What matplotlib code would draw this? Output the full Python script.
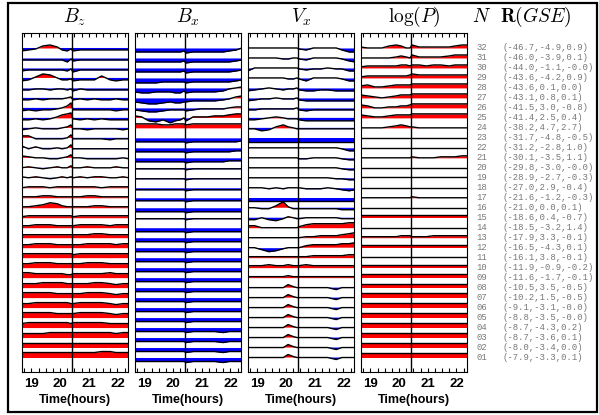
import numpy as np
import matplotlib.pyplot as plt
from matplotlib.transforms import blended_transform_factory
from matplotlib.patches import Rectangle
from matplotlib.ticker import MultipleLocator

plt.rcParams['mathtext.fontset'] = 'cm'

# sample times (hours) shared by all traces
times = [18.65, 18.9, 19.15, 19.4, 19.65, 19.9, 20.07, 20.25, 20.38, 20.45,
         20.7, 20.95, 21.2, 21.45, 21.75, 21.95, 22.2, 22.4]
t_event = 20.42

# trace values, rows from station 32 (top) down to 01, in tenths of a row
bz = [
    [-3, -2, -1, 2, 3, 1, -2, -3, -1, -3, -2, -2, -2, -2, -2, -2, -2, -2],
    [-2, -2, -2, -2, -2, -2, -2, -4, -1, -3, -2, -2, -2, -2, -2, -2, -2, -2],
    [-3, -2, -2, -2, -2, -2, -2, -3, -1, -4, -2, -2, -2, -2, -2, -2, -2, -2],
    [-3, -2, 1, 4, 3, 0, -2, -2, -1, -3, -2, -2, -2, 2, -2, -3, -2, -2],
    [-2, -2, -1, -1, -2, -1, -1, -2, -1, -3, -1, -2, -2, -2, -2, -2, -2, -2],
    [-2, -2, -1, -2, -1, -1, -1, 0, 1, -2, -1, -2, -1, -2, -2, -1, -2, -2],
    [-3, -2, -3, -2, -2, -1, 0, 2, 5, -2, -2, -2, -2, -2, -2, -3, -2, -2],
    [-2, -2, -1, -2, -1, 1, 3, 4, 5, -1, -2, -1, -2, -1, -2, -2, -2, -2],
    [-2, -1, 0, -1, -1, -1, 0, 1, 3, -1, -1, -2, -1, -1, -1, -1, -2, -1],
    [2, 2, -1, -1, -1, -1, -1, 0, 3, -1, -1, -1, -1, -1, -2, -1, -1, -1],
    [2, -1, 1, -1, -1, 0, -1, 0, 3, -1, -1, -1, -1, -1, -1, -1, -1, -1],
    [2, 1, 0, 0, -1, -1, 0, 1, 3, 0, 0, -1, -1, -1, -1, -1, 0, -1],
    [0, 1, 0, -1, 0, 1, 0, 0, 2, 0, 0, 1, 0, 0, 0, 1, 0, 0],
    [1, 0, 1, 0, -1, 0, 1, 0, 1, 0, 1, 0, 1, 1, 0, 0, 1, 0],
    [0, 1, 1, 1, 0, 1, 1, 1, 1, 1, 1, 1, 1, 0, 1, 1, 1, 1],
    [1, 1, 1, 2, 2, 1, 1, 1, 1, 1, 1, 2, 2, 1, 1, 1, 1, 1],
    [1, 1, 2, 3, 5, 4, 2, 1, 1, 1, 1, 1, 2, 2, 1, 1, 1, 1],
    [1, 2, 2, 2, 2, 2, 2, 2, 2, 1, 2, 2, 2, 2, 2, 2, 2, 2],
    [2, 2, 3, 3, 3, 2, 2, 2, 2, 2, 3, 3, 3, 3, 2, 3, 3, 3],
    [3, 3, 3, 3, 3, 3, 3, 3, 3, 3, 3, 3, 4, 4, 3, 3, 3, 3],
    [3, 3, 4, 4, 4, 3, 3, 3, 3, 3, 3, 4, 4, 4, 4, 3, 4, 4],
    [4, 4, 4, 4, 4, 4, 4, 4, 4, 3, 4, 4, 4, 4, 4, 4, 4, 4],
    [4, 4, 5, 5, 5, 4, 4, 4, 4, 4, 4, 5, 5, 5, 4, 4, 4, 4],
    [5, 5, 4, 4, 4, 4, 4, 3, 3, 4, 4, 4, 4, 4, 5, 4, 4, 4],
    [4, 4, 4, 5, 5, 5, 5, 4, 4, 4, 4, 4, 5, 5, 4, 3, 4, 4],
    [5, 5, 5, 5, 5, 4, 4, 4, 4, 4, 4, 5, 5, 5, 4, 3, 4, 4],
    [4, 4, 5, 5, 5, 5, 5, 5, 4, 4, 5, 5, 5, 5, 4, 3, 4, 4],
    [5, 5, 5, 5, 5, 4, 4, 4, 4, 4, 5, 5, 5, 5, 4, 3, 4, 4],
    [4, 5, 5, 5, 5, 5, 5, 5, 4, 5, 5, 5, 5, 5, 4, 4, 4, 4],
    [4, 4, 4, 4, 5, 5, 5, 5, 5, 5, 5, 5, 5, 5, 5, 4, 5, 5],
    [5, 5, 5, 5, 5, 5, 5, 5, 5, 5, 5, 5, 5, 5, 5, 5, 5, 5],
    [5, 5, 5, 5, 5, 5, 5, 5, 5, 5, 5, 5, 5, 6, 6, 5, 5, 5],
]

bx = [
    [-4, -4, -4, -4, -4, -4, -4, -4, -3, -5, -4, -4, -4, -4, -4, -3, -2, 0],
    [-4, -4, -4, -4, -4, -4, -4, -4, -3, -5, -4, -4, -4, -4, -4, -4, -3, -2],
    [-4, -4, -4, -4, -4, -4, -4, -4, -3, -5, -4, -4, -4, -4, -4, -4, -3, -2],
    [-5, -5, -5, -5, -4, -4, -4, -4, -4, -5, -4, -4, -4, -4, -4, -4, -3, -2],
    [-4, -5, -5, -4, -4, -4, -5, -5, -3, -5, -4, -4, -4, -4, -3, -1, 0, 1],
    [-4, -5, -6, -6, -5, -4, -5, -5, -4, -4, -3, -3, -3, -3, -2, -1, 1, 2],
    [-2, -3, -4, -4, -3, -2, -2, -2, -2, -3, -2, -1, -1, -1, -1, 0, 1, 1],
    [2, 1, -3, -4, -2, -5, -3, -2, 0, -3, 1, 1, 1, 2, 2, 3, 4, 4],
    [4, 4, 4, 4, 3, 3, 4, 4, 4, 3, 4, 4, 4, 4, 4, 4, 4, 4],
    [-4, -4, -4, -4, -4, -4, -4, -4, -4, -5, -4, -4, -4, -4, -4, -4, -4, -3],
    [-4, -4, -4, -4, -4, -4, -4, -4, -4, -5, -4, -4, -4, -4, -4, -4, -3, -3],
    [-4, -4, -4, -4, -4, -4, -4, -4, -4, -5, -4, -4, -4, -4, -4, -3, -3, -3],
    [-1, -1, -1, -1, -1, -1, -1, -1, -1, -2, -1, -1, -1, -1, -1, -1, -1, -1],
    [-1, -1, -1, -1, -1, -1, -1, -1, -1, -2, -1, -1, -1, -1, -1, -1, -1, -1],
    [-2, -2, -2, -2, -2, -2, -2, -2, -2, -3, -2, -2, -2, -2, -2, -2, -2, -2],
    [-3, -3, -3, -3, -3, -3, -3, -3, -3, -4, -3, -3, -3, -3, -3, -3, -3, -3],
    [-4, -4, -4, -4, -4, -4, -4, -4, -4, -5, -4, -4, -4, -4, -4, -4, -4, -4],
    [-1, -1, -1, -1, -1, -1, -1, -1, -1, -2, -1, -1, -1, -1, -1, -1, -1, -1],
    [-4, -4, -4, -4, -4, -4, -4, -4, -4, -5, -4, -4, -4, -4, -4, -4, -4, -4],
    [-4, -4, -4, -4, -4, -4, -4, -4, -4, -5, -4, -4, -4, -4, -4, -4, -4, -4],
    [-4, -4, -4, -4, -4, -4, -4, -4, -4, -5, -4, -4, -4, -4, -4, -4, -4, -4],
    [-4, -4, -4, -4, -4, -4, -4, -4, -4, -5, -4, -4, -4, -4, -4, -4, -4, -4],
    [-4, -4, -4, -4, -4, -4, -4, -4, -4, -5, -4, -4, -4, -4, -4, -4, -4, -4],
    [-4, -4, -4, -4, -4, -4, -4, -4, -4, -5, -4, -4, -4, -4, -4, -4, -4, -4],
    [-4, -4, -4, -4, -4, -4, -4, -4, -4, -5, -4, -4, -4, -4, -4, -4, -4, -4],
    [-4, -4, -4, -4, -4, -4, -4, -4, -4, -5, -4, -4, -4, -4, -4, -4, -4, -4],
    [-4, -4, -4, -4, -4, -4, -4, -4, -4, -5, -4, -4, -4, -4, -4, -4, -4, -4],
    [-4, -4, -4, -4, -4, -4, -4, -4, -4, -5, -4, -4, -4, -4, -4, -4, -4, -4],
    [-4, -4, -4, -4, -4, -4, -4, -4, -4, -5, -4, -4, -4, -4, -5, -4, -4, -4],
    [-4, -4, -4, -4, -4, -4, -4, -4, -4, -5, -4, -4, -4, -4, -5, -4, -4, -4],
    [-4, -4, -4, -4, -4, -4, -4, -4, -4, -5, -4, -4, -4, -4, -5, -4, -4, -4],
    [-4, -4, -4, -4, -4, -4, -4, -4, -4, -5, -4, -4, -4, -4, -5, -4, -4, -4],
]

vx = [
    [0, 0, 0, 0, 0, 0, 0, 0, 0, -1, -2, 0, 0, 0, 0, -2, -4, -4],
    [0, 0, 0, 0, 0, -1, -1, 0, 0, -1, -2, 0, 0, 0, 0, -1, -3, -4],
    [-3, 0, 0, 0, 0, 0, 0, 0, 0, -1, -2, -1, -1, 0, -1, -1, -3, -3],
    [0, 0, 0, 0, 0, 0, -1, -1, 0, -1, -3, 0, 0, 0, 0, -1, -3, -3],
    [-3, -2, -1, 0, -1, -2, -1, -1, 0, -2, -3, -3, -2, -2, -3, -3, -3, -3],
    [-3, -2, -1, -1, 0, -1, -1, -1, 0, -2, -3, -3, -3, -3, -3, -3, -3, -3],
    [-2, -2, -1, -1, -1, -1, -1, -1, 0, -2, -3, -2, -2, -2, -2, -2, -2, -2],
    [-2, -2, -1, 0, 1, 0, -1, -1, -1, -2, -3, -3, -3, -3, -3, -3, -3, -3],
    [-1, -1, -3, -2, 1, 3, 1, 0, -1, -1, -1, -1, -1, -1, -1, -1, -1, -1],
    [-4, -4, -4, -4, -4, -4, -4, -4, -4, -4, -4, -4, -4, -4, -4, -4, -4, -4],
    [0, 0, 0, 0, 0, 0, 0, 0, 0, 0, 0, 0, 0, 0, 0, -1, -3, -3],
    [0, 0, 0, 0, 0, 0, 0, 0, 0, -1, -1, 0, 0, 0, 0, -1, -2, -2],
    [0, 0, 0, 0, 0, 0, 0, 0, 0, 0, 0, 0, 0, 0, 0, -1, -2, -2],
    [0, 0, 0, 0, 0, 0, 0, 0, 0, 0, 0, 0, 0, 0, -1, -1, -2, -2],
    [0, 0, 0, -1, 0, -1, 0, 0, 0, 0, -1, -1, -1, 0, -1, -2, -3, -2],
    [-3, -3, -3, -3, -3, -3, -3, -3, -3, -3, -3, -3, -3, -3, -3, -3, -3, -3],
    [0, 0, -1, -1, 2, 6, 1, -1, -1, -1, -1, -1, -1, -1, -1, -2, -2, -2],
    [-2, -2, 0, -2, -3, -1, 1, 0, -1, -1, 0, 0, 0, 0, 0, -1, -1, -1],
    [2, 2, 0, 0, 0, 0, 0, 0, 0, 1, 3, 4, 4, 4, 4, 4, 5, 5],
    [0, 0, 0, 0, 0, 0, 0, 0, 0, 0, 1, 1, 2, 2, 2, 3, 4, 5],
    [0, 0, -2, -4, -3, -1, 0, 0, 0, 0, 2, 3, 3, 3, 3, 4, 4, 5],
    [1, 1, 1, 1, 1, 1, 1, 1, 1, 1, 1, 2, 2, 2, 2, 2, 3, 3],
    [2, 2, 2, 3, 2, 2, 3, 2, 2, 2, 3, 2, 2, 2, 2, 2, 2, 2],
    [1, 1, 1, 1, 1, 1, 2, 1, 1, 1, 1, 1, 1, 1, 1, 1, 1, 1],
    [0, 0, 0, 0, 0, 0, 3, 1, 0, 0, 0, 0, 0, 0, -2, 0, 0, 0],
    [0, 0, 0, 0, 0, 0, 3, 1, 0, 0, 0, 0, 0, 0, -2, 0, 0, 0],
    [0, 0, 0, 0, 0, 0, 3, 1, 0, 0, 0, 0, 0, 0, -2, 0, 0, 0],
    [0, 0, 0, 0, 0, 0, 3, 1, 0, 0, 0, 0, 0, 0, -2, 0, 0, 0],
    [0, 0, 0, 0, 0, 0, 3, 1, 0, 0, 0, 0, 0, 0, -2, 0, 0, 0],
    [0, 0, 0, 0, 0, 0, 3, 1, 0, 0, 0, 0, 0, 0, -2, 0, 0, 0],
    [0, 0, 0, 0, 0, 0, 3, 1, 0, 0, 0, 0, 0, 0, -2, 0, 0, 0],
    [0, 0, 0, 0, 0, 0, 3, 1, 0, 0, 0, 0, 0, 0, -2, 0, 0, 0],
]

logp = [
    [1, 0, 0, 0, 2, 3, 2, 0, 0, 3, 1, 1, 1, 1, 1, 2, 3, 3],
    [0, 0, 0, 0, 0, 1, 2, 1, 0, 3, 1, 1, 1, 1, 2, 3, 3, 3],
    [1, 2, 2, 2, 2, 2, 3, 3, 2, 3, 3, 2, 3, 3, 2, 3, 3, 3],
    [1, 2, 2, 2, 2, 2, 2, 2, 3, 4, 3, 3, 3, 3, 3, 3, 3, 3],
    [2, 3, 1, 1, 2, 3, 3, 3, 3, 4, 4, 4, 4, 4, 4, 4, 4, 4],
    [3, 2, 1, 0, 1, 2, 3, 3, 3, 4, 4, 4, 4, 4, 4, 4, 4, 4],
    [3, 2, 0, 0, 1, 1, 2, 2, 3, 4, 4, 4, 4, 4, 4, 4, 4, 4],
    [3, 2, 1, 1, 2, 3, 3, 3, 3, 4, 4, 4, 4, 4, 4, 4, 4, 4],
    [0, 0, 0, 0, 1, 2, 3, 2, 1, 1, 0, 0, 0, 0, 0, 0, 0, 0],
    [0, 0, 0, 0, 0, 0, 0, 0, 0, 0, 0, 0, 0, 0, 0, 0, 0, 0],
    [0, 0, 0, 0, 0, 0, 0, 0, 0, 0, 0, 0, 0, 0, 0, 0, 0, 0],
    [0, 0, 0, 0, 0, 0, 0, 0, 0, 1, 0, 0, 0, 1, 1, 1, 2, 2],
    [0, 0, 0, 0, 0, 0, 0, 0, 0, 0, 0, 0, 0, 0, 0, 0, 0, 0],
    [1, 1, 1, 1, 1, 1, 1, 1, 1, 1, 1, 1, 1, 1, 1, 1, 1, 1],
    [0, 0, 0, 0, 0, 0, 0, 0, 0, 0, 0, 0, 0, 0, 0, 0, 0, 0],
    [0, 0, 0, 0, 0, 0, 0, 0, 0, 1, 0, 0, 0, 0, 0, 0, 0, 0],
    [0, 0, 0, 0, 0, 0, 0, 0, 0, 0, 0, 0, 0, 0, 0, 0, 0, 0],
    [3, 3, 3, 3, 3, 3, 3, 3, 3, 3, 3, 3, 3, 3, 3, 3, 3, 3],
    [0, 0, 0, 0, 0, 0, 0, 0, 0, 0, 0, 0, 0, 0, 0, 0, 0, 0],
    [1, 1, 1, 1, 1, 1, 2, 2, 2, 1, 1, 1, 2, 2, 2, 2, 2, 2],
    [3, 3, 3, 3, 3, 3, 3, 3, 3, 3, 3, 3, 3, 3, 3, 3, 3, 3],
    [1, 1, 1, 1, 1, 1, 1, 1, 1, 1, 1, 1, 1, 1, 1, 1, 1, 1],
    [3, 3, 3, 3, 3, 3, 3, 3, 3, 3, 3, 3, 3, 3, 3, 3, 3, 3],
    [4, 4, 4, 4, 4, 4, 4, 4, 4, 4, 4, 4, 4, 4, 4, 4, 4, 4],
    [4, 4, 4, 4, 4, 4, 4, 4, 4, 4, 4, 4, 4, 4, 4, 4, 4, 4],
    [5, 5, 5, 5, 5, 5, 5, 5, 5, 5, 5, 5, 5, 5, 5, 5, 5, 5],
    [5, 5, 5, 5, 5, 5, 5, 5, 5, 5, 5, 5, 5, 5, 5, 5, 5, 5],
    [5, 5, 5, 5, 5, 5, 5, 5, 5, 5, 5, 5, 5, 5, 5, 5, 5, 5],
    [5, 5, 5, 5, 5, 5, 5, 5, 5, 5, 5, 5, 5, 5, 5, 5, 5, 5],
    [5, 5, 5, 5, 5, 5, 5, 5, 5, 5, 5, 5, 5, 5, 5, 5, 5, 5],
    [5, 5, 5, 5, 5, 5, 5, 5, 5, 5, 5, 5, 5, 5, 5, 5, 5, 5],
    [5, 5, 5, 5, 5, 5, 5, 5, 5, 5, 5, 5, 5, 5, 5, 5, 5, 5],
]

titles = [r'$B_z$', r'$B_x$', r'$V_x$', r'$\log(P)$']
panels = [bz, bx, vx, logp]

station_ids = ['%02d' % n for n in range(32, 0, -1)]
positions = [
    '(-46.7,-4.9,0.9)', '(-46.0,-3.9,0.1)', '(-44.0,-1.1,-0.0)', '(-43.6,-4.2,0.9)',
    '(-43.6,0.1,0.0)', '(-43.1,0.8,0.1)', '(-41.5,3.0,-0.8)', '(-41.4,2.5,0.4)',
    '(-38.2,4.7,2.7)', '(-31.7,-4.8,-0.5)', '(-31.2,-2.8,1.0)', '(-30.1,-3.5,1.1)',
    '(-29.8,-3.0,-0.0)', '(-28.9,-2.7,-0.3)', '(-27.0,2.9,-0.4)', '(-21.6,-1.2,-0.3)',
    '(-21.0,0.0,0.1)', '(-18.6,0.4,-0.7)', '(-18.5,-3.2,1.4)', '(-17.9,3.3,-0.1)',
    '(-16.5,-4.3,0.1)', '(-16.1,3.8,-0.1)', '(-11.9,-0.9,-0.2)', '(-11.6,-1.7,-0.1)',
    '(-10.5,3.5,-0.5)', '(-10.2,1.5,-0.5)', '(-9.1,-3.1,-0.0)', '(-8.8,-3.5,-0.0)',
    '(-8.7,-4.3,0.2)', '(-8.7,-3.6,0.1)', '(-8.0,-3.4,0.0)', '(-7.9,-3.3,0.1)',
]

W, H = 599, 415
fig = plt.figure(figsize=(W / 100, H / 100), dpi=100)

t = np.array(times)
lefts = [22, 135, 248, 361]
ax_top, ax_bot = 33, 372
axes = []
for left, data, title in zip(lefts, panels, titles):
    ax = fig.add_axes([left / W, 1 - ax_bot / H, 106 / W, (ax_bot - ax_top) / H])
    axes.append(ax)
    for r, row in enumerate(data):
        base = 32 - r
        y = base + 0.1 * np.array(row)
        ax.fill_between(t, base, y, where=y >= base, interpolate=True,
                        color='red', lw=0)
        ax.fill_between(t, base, y, where=y <= base, interpolate=True,
                        color='blue', lw=0)
        ax.plot(t, y, color='black', lw=1.0)
    ax.axvline(t_event, color='black', lw=1.0)
    ax.set_xlim(18.67, 22.37)
    ax.set_ylim(-0.45, 33.5)
    ax.set_yticks([])
    ax.xaxis.set_major_locator(MultipleLocator(1))
    ax.xaxis.set_minor_locator(MultipleLocator(0.25))
    ax.tick_params(axis='x', which='both', direction='in', top=True,
                   length=3, width=0.8, pad=4)
    for lab in ax.get_xticklabels():
        lab.set_fontfamily('Liberation Sans')
        lab.set_fontweight('bold')
        lab.set_fontsize(9.5)
    ax.set_xlabel('Time(hours)', fontfamily='Liberation Sans',
                  fontweight='bold', fontsize=9, labelpad=3)
    fig.text((left + 53) / W, 1 - 17 / H, title, ha='center', va='center',
             fontsize=14)

# station table on the right
tr = blended_transform_factory(fig.transFigure, axes[3].transData)
fig.text(482 / W, 1 - 17 / H, r'$N$', ha='center', va='center', fontsize=14)
fig.text(536 / W, 1 - 17 / H, r'$\mathbf{R}(GSE)$', ha='center', va='center',
         fontsize=14)
for r, (sid, pos) in enumerate(zip(station_ids, positions)):
    base = 32 - r
    fig.text(482 / W, base, sid, transform=tr, ha='center', va='center',
             fontfamily='Liberation Mono', fontsize=6.4, color='#777777')
    fig.text(502 / W, base, pos, transform=tr, ha='left', va='center',
             fontfamily='Liberation Mono', fontsize=6.4, color='#777777')

fig.patches.append(Rectangle((7.5 / W, 3 / H), 589 / W, 409 / H,
                             transform=fig.transFigure, fill=False,
                             edgecolor='black', lw=1.6))

fig.savefig('out.png', dpi=100)
